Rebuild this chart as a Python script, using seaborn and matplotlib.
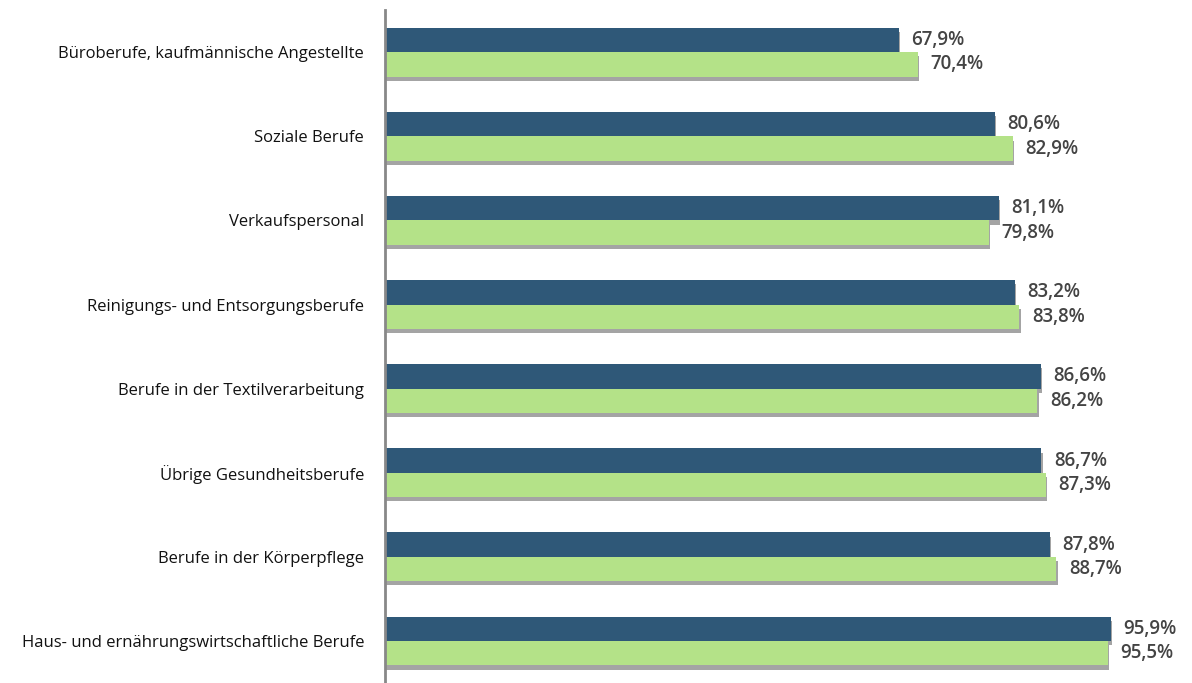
import matplotlib
matplotlib.use("Agg")
import matplotlib.pyplot as plt
import matplotlib.patheffects as pe
import seaborn as sns
import pandas as pd

# Data
categories = [
    "Büroberufe, kaufmännische Angestellte",
    "Soziale Berufe",
    "Verkaufspersonal",
    "Reinigungs- und Entsorgungsberufe",
    "Berufe in der Textilverarbeitung",
    "Übrige Gesundheitsberufe",
    "Berufe in der Körperpflege",
    "Haus- und ernährungswirtschaftliche Berufe",
]
series_names = ["Reihe 1", "Reihe 2"]
values_1 = [67.9, 80.6, 81.1, 83.2, 86.6, 86.7, 87.8, 95.9]
values_2 = [70.4, 82.9, 79.8, 83.8, 86.2, 87.3, 88.7, 95.5]

df = pd.DataFrame({
    "Beruf": categories * 2,
    "Serie": [series_names[0]] * len(categories) + [series_names[1]] * len(categories),
    "Wert": values_1 + values_2,
})

sns.set_style("white")
plt.rcParams["font.family"] = ["Open Sans", "DejaVu Sans"]

fig = plt.figure(figsize=(11.92, 6.83), dpi=100)
ax = fig.add_axes([0.323, 0.0, 0.635, 0.985])

sns.barplot(data=df, y="Beruf", x="Wert", hue="Serie", order=categories,
            hue_order=series_names, palette=["#2f5878", "#b4e288"], saturation=1,
            width=0.58, gap=0.0, orient="h", ax=ax, legend=False)

# soft dark shadow under the bars for the 3D look
shadow = [pe.withSimplePatchShadow(offset=(1, -3), shadow_rgbFace="#4a4a4a", alpha=0.5),
          pe.Normal()]
for p in ax.patches:
    p.set_path_effects(shadow)
    p.set_linewidth(0)

for cont in ax.containers:
    labels = [f"{v:.1f}%".replace(".", ",") for v in cont.datavalues]
    ax.bar_label(cont, labels=labels, padding=9, fontsize=13.5, color="#444444",
                 fontweight="semibold", clip_on=False)

ax.set_xlim(0, 100)
ax.set_ylim(len(categories) - 0.5, -0.5)
ax.set_xlabel("")
ax.set_ylabel("")
ax.set_xticks([])
ax.tick_params(axis="y", length=0, pad=15, labelsize=12, labelcolor="#111111")
for s in ["top", "right", "bottom"]:
    ax.spines[s].set_visible(False)
ax.spines["left"].set_color("#888888")
ax.spines["left"].set_linewidth(2)

fig.savefig("out.png", dpi=100)
